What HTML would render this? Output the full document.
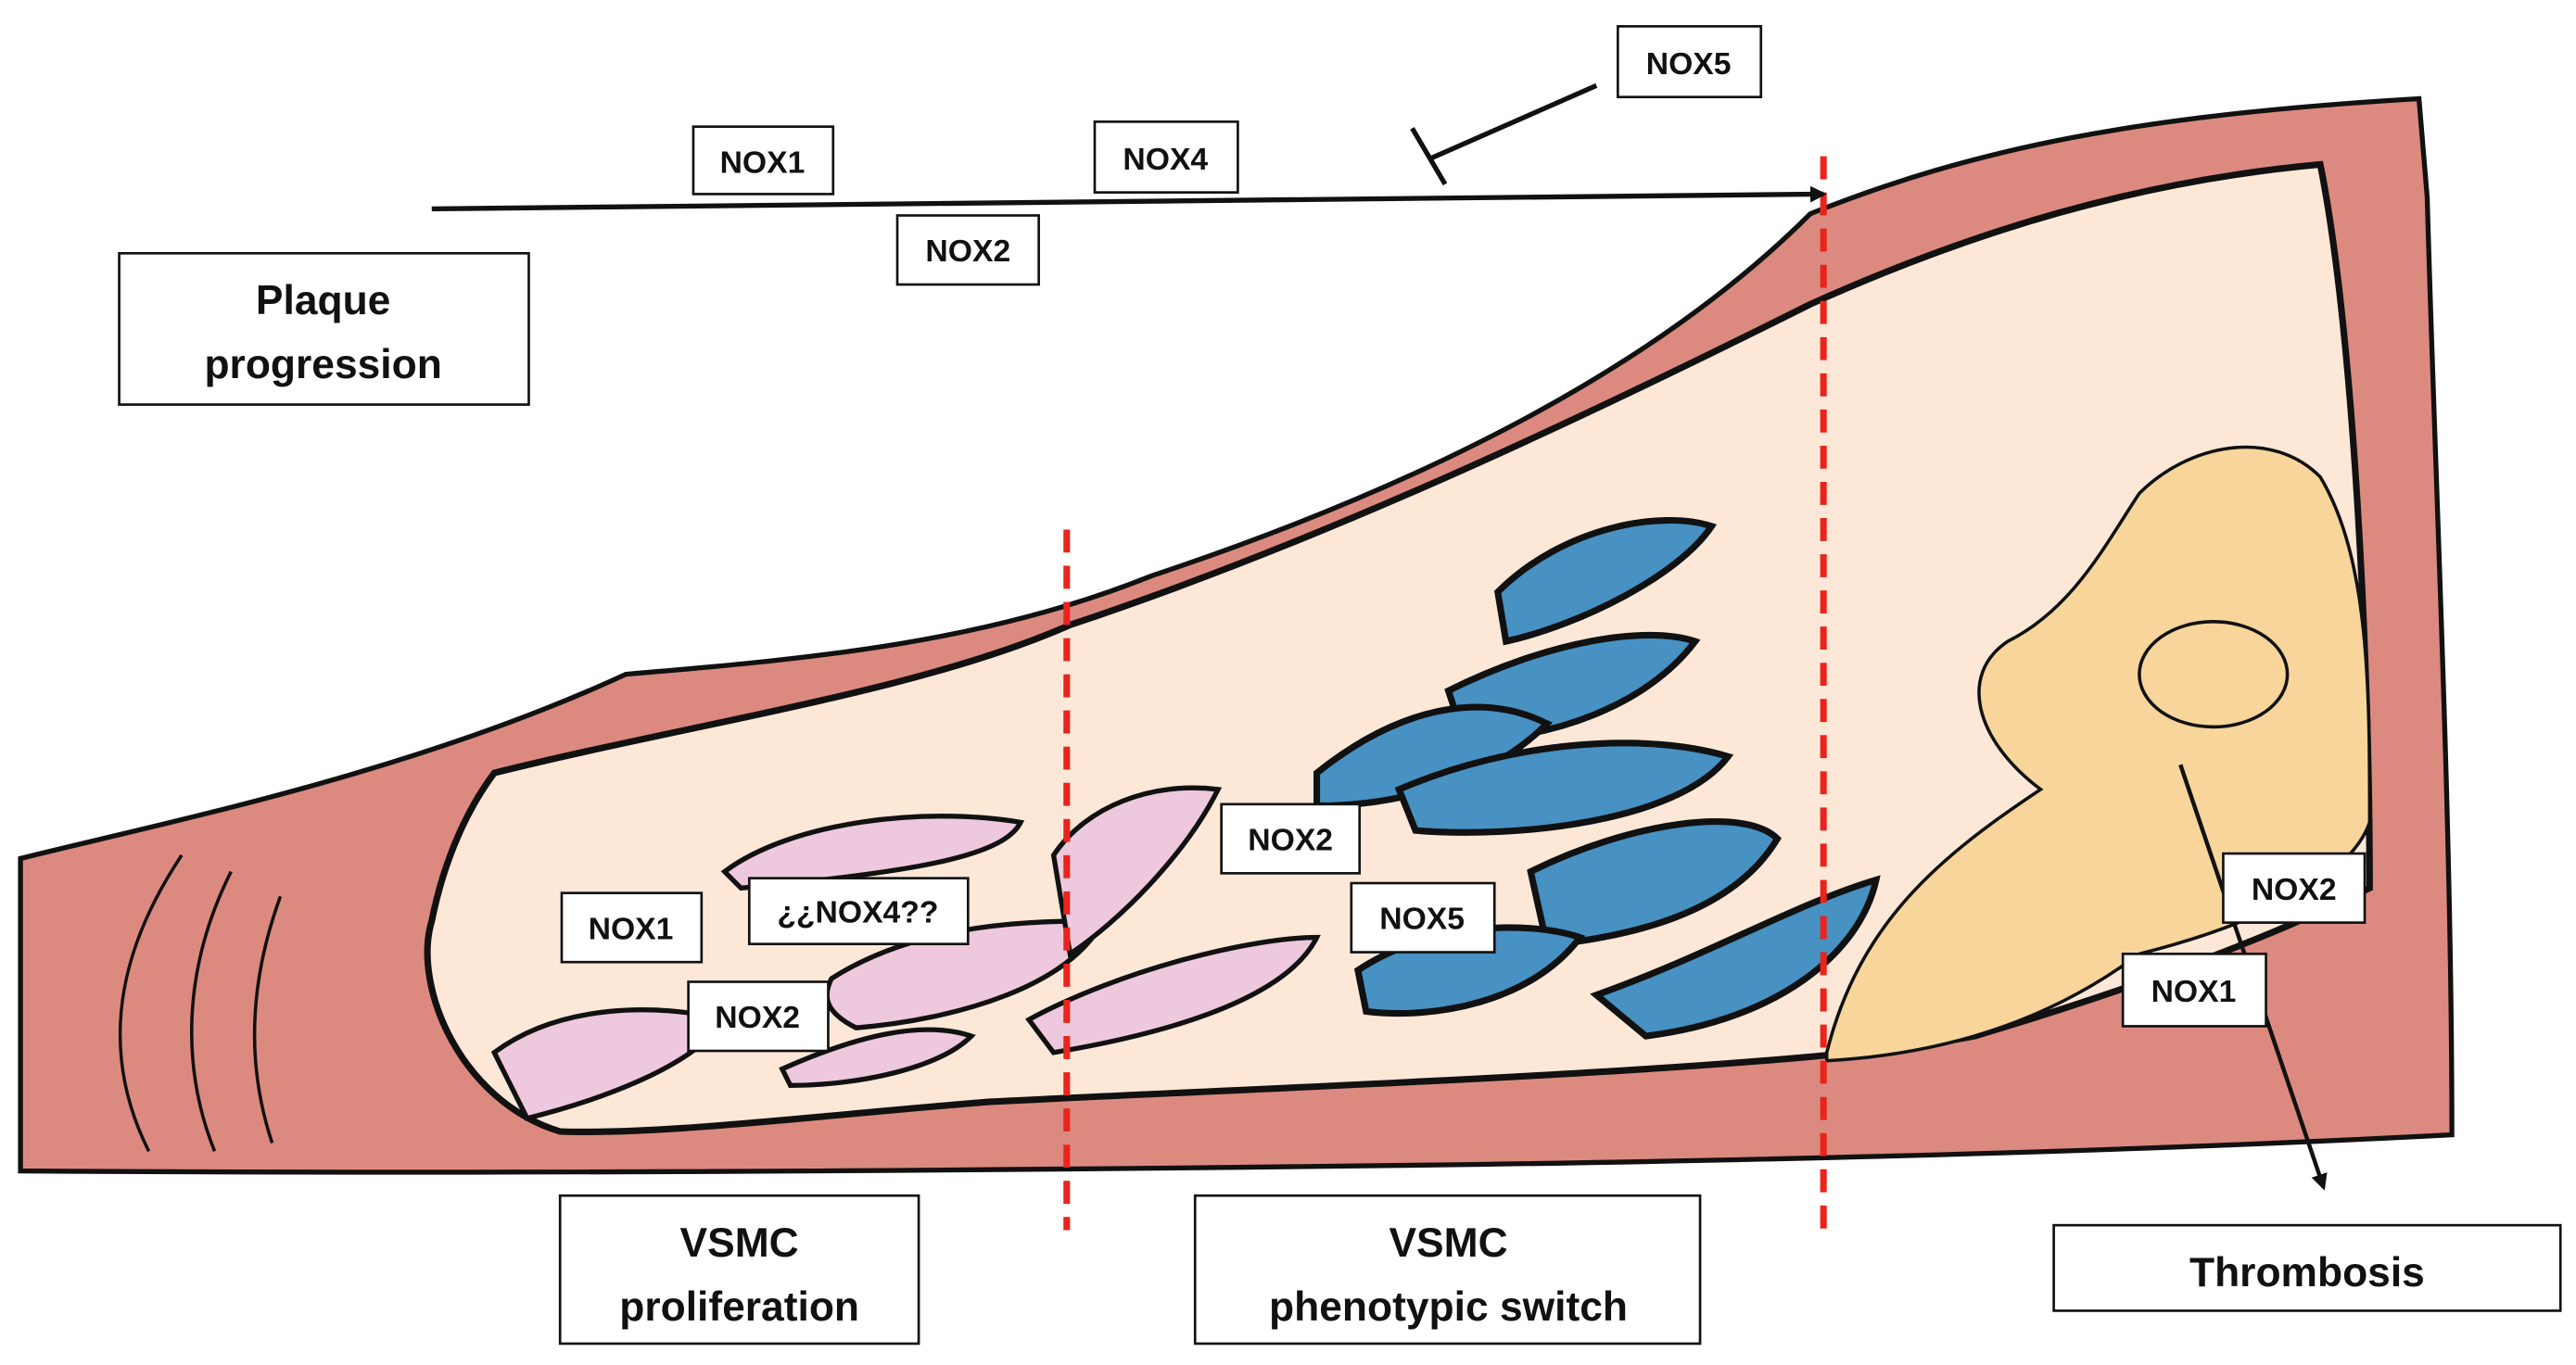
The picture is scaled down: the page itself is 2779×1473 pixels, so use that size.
<!DOCTYPE html>
<html><head><meta charset="utf-8"><style>
html,body{margin:0;padding:0;background:#fff}
svg{display:block}
text{font-family:"Liberation Sans",sans-serif;font-weight:bold;fill:#111}
</style></head><body>
<svg width="2779" height="1473" viewBox="0 0 1565 830" xmlns="http://www.w3.org/2000/svg">
<defs><marker id="ah" markerWidth="10" markerHeight="10" refX="8" refY="5" orient="auto" markerUnits="userSpaceOnUse"><path d="M0,0 L10,5 L0,10 Z" fill="#111"/></marker></defs>
<!-- outer vessel wall -->
<path d="M12,522 C100,500 250,470 380,410 C500,400 600,390 700,350 C850,300 1000,230 1100,130 C1200,90 1300,70 1470,60 L1475,120 C1480,300 1490,500 1490,690 C1300,700 1100,705 900,708 C600,712 300,714 12,712 Z" fill="#dc8a80" stroke="#111" stroke-width="3"/>
<!-- lumen -->
<path d="M300,470 C420,440 560,420 650,380 C800,330 950,260 1100,185 C1200,140 1300,110 1410,100 C1430,200 1440,400 1440,540 C1380,570 1300,600 1200,630 C1100,650 800,660 600,670 C480,680 400,690 340,688 C280,670 250,600 262,560 C270,520 285,490 300,470 Z" fill="#fde8d8" stroke="#111" stroke-width="4"/>
<!-- wall lines left -->
<path d="M110,520 C70,580 60,640 90,700 M140,530 C110,590 110,650 130,700 M170,545 C150,600 150,650 165,695" fill="none" stroke="#111" stroke-width="2"/>
<!-- thrombus -->
<path d="M1110,640 C1130,560 1180,520 1240,480 C1200,450 1190,410 1220,390 C1260,370 1280,330 1300,300 C1330,270 1380,260 1410,290 C1440,340 1440,420 1440,500 C1430,530 1380,560 1300,580 C1260,610 1200,640 1110,645 Z" fill="#f7d59b" stroke="#111" stroke-width="2"/>
<ellipse cx="1345" cy="410" rx="45" ry="32" fill="none" stroke="#111" stroke-width="2"/>
<!-- pink cells -->
<g fill="#eec8dc" stroke="#111" stroke-width="3">
<path d="M440,530 C480,500 560,490 620,500 C610,520 560,530 450,540 Z"/>
<path d="M300,640 C340,610 400,610 440,620 C420,650 360,670 320,680 Z"/>
<path d="M505,595 C560,560 630,560 670,560 C650,600 580,620 520,625 C500,615 500,605 505,595 Z"/>
<path d="M475,650 C520,630 560,620 590,630 C570,650 520,660 480,660 Z"/>
<path d="M625,620 C680,590 760,570 800,570 C780,610 700,630 640,640 Z"/>
<path d="M640,520 C660,490 700,475 740,480 C720,520 680,560 650,580 Z"/>
</g>
<!-- blue cells -->
<g fill="#4791c3" stroke="#111" stroke-width="4">
<path d="M910,360 C950,320 1010,310 1040,320 C1020,350 960,380 915,390 Z"/>
<path d="M880,420 C940,390 1000,380 1030,390 C1000,430 940,450 890,450 Z"/>
<path d="M800,470 C850,430 900,420 940,440 C900,480 840,490 800,490 Z"/>
<path d="M850,480 C920,450 1000,445 1050,460 C1020,500 920,510 860,505 Z"/>
<path d="M930,530 C990,500 1060,490 1080,510 C1050,560 980,570 940,575 Z"/>
<path d="M825,590 C870,560 930,560 960,570 C930,610 870,620 830,615 Z"/>
<path d="M970,605 C1040,580 1090,550 1140,535 C1130,580 1080,620 1000,630 Z"/>
</g>
<!-- red dashed -->
<g stroke="#e8241c" stroke-width="4" stroke-dasharray="14,8">
<line x1="648" y1="322" x2="648" y2="748"/>
<line x1="1108" y1="95" x2="1108" y2="748"/>
</g>
<!-- arrows -->
<line x1="262" y1="127" x2="1108" y2="118" stroke="#111" stroke-width="3" marker-end="url(#ah)"/>
<line x1="970" y1="52" x2="870" y2="96" stroke="#111" stroke-width="3"/>
<line x1="858" y1="78" x2="878" y2="112" stroke="#111" stroke-width="3"/>
<line x1="1325" y1="465" x2="1412" y2="722" stroke="#111" stroke-width="2.5" marker-end="url(#ah)"/>
<!-- boxes -->
<g fill="#fff" stroke="#111" stroke-width="1.5">
<rect x="72" y="154" width="249" height="92"/>
<rect x="421" y="77" width="85" height="41"/>
<rect x="665" y="74" width="87" height="43"/>
<rect x="545" y="131" width="86" height="42"/>
<rect x="983" y="16" width="87" height="43"/>
<rect x="341" y="543" width="85" height="42"/>
<rect x="455" y="534" width="133" height="40"/>
<rect x="418" y="597" width="85" height="42"/>
<rect x="742" y="489" width="84" height="42"/>
<rect x="821" y="537" width="87" height="42"/>
<rect x="1351" y="519" width="86" height="42"/>
<rect x="1290" y="580" width="87" height="44"/>
<rect x="340" y="727" width="218" height="90"/>
<rect x="726" y="727" width="307" height="90"/>
<rect x="1248" y="745" width="308" height="52"/>
</g>
<g font-size="19" text-anchor="middle">
<text x="463" y="105">NOX1</text>
<text x="708" y="103">NOX4</text>
<text x="588" y="159">NOX2</text>
<text x="1026" y="45">NOX5</text>
<text x="383" y="571">NOX1</text>
<text x="521" y="561">¿¿NOX4??</text>
<text x="460" y="625">NOX2</text>
<text x="784" y="517">NOX2</text>
<text x="864" y="565">NOX5</text>
<text x="1394" y="547">NOX2</text>
<text x="1333" y="609">NOX1</text>
</g>
<g font-size="25" text-anchor="middle">
<text x="196" y="191">Plaque</text>
<text x="196" y="230">progression</text>
<text x="449" y="764">VSMC</text>
<text x="449" y="803">proliferation</text>
<text x="880" y="764">VSMC</text>
<text x="880" y="803">phenotypic switch</text>
<text x="1402" y="782">Thrombosis</text>
</g>
</svg>
</body></html>
